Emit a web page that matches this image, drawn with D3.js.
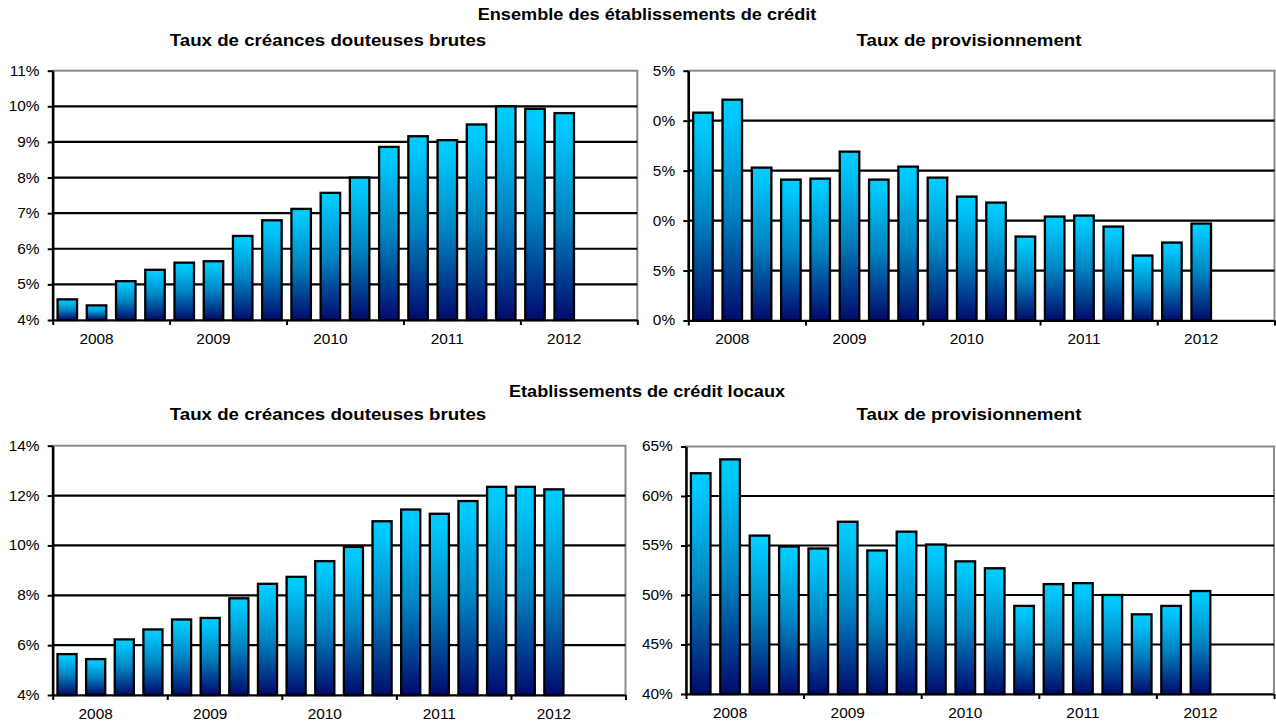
<!DOCTYPE html>
<html>
<head>
<meta charset="utf-8">
<script src="https://cdn.jsdelivr.net/npm/d3@7"></script>
<style>
  body { margin: 0; background: #fff; }
  svg { display: block; }
  text { font-family: "Liberation Sans", Arial, sans-serif; fill: #000; }
</style>
</head>
<body>
<svg id="chart" width="1276" height="722"></svg>
<script>
// Quarterly categories (20 slots, data runs to mid-2012)
const years = ["2008", "2009", "2010", "2011", "2012"];
const quarters = years.flatMap(y => ["T1", "T2", "T3", "T4"].map(q => y + "-" + q));

// Ensemble des établissements de crédit
const ensDouteuses = [4.58, 4.41, 5.09, 5.41, 5.61, 5.65, 6.36, 6.80, 7.12, 7.57, 8.00, 8.86, 9.16, 9.05, 9.49, 10.00, 9.93, 9.81];
const ensProvision = [60.8, 62.1, 55.3, 54.1, 54.2, 56.9, 54.1, 55.4, 54.3, 52.4, 51.8, 48.4, 50.4, 50.5, 49.4, 46.5, 47.8, 49.7];

// Etablissements de crédit locaux
const locDouteuses = [5.64, 5.44, 6.23, 6.63, 7.03, 7.09, 7.88, 8.46, 8.74, 9.37, 9.94, 10.97, 11.44, 11.27, 11.78, 12.35, 12.35, 12.25];
const locProvision = [62.3, 63.7, 56.0, 54.9, 54.7, 57.4, 54.5, 56.4, 55.1, 53.4, 52.7, 48.9, 51.1, 51.2, 50.0, 48.05, 48.9, 50.4];

// Y tick values and their printed labels
const ticksDouteusesEns = [4, 5, 6, 7, 8, 9, 10, 11];
const labelsDouteusesEns = ["4%", "5%", "6%", "7%", "8%", "9%", "10%", "11%"];
const ticksProvisionEns = [40, 45, 50, 55, 60, 65];
const labelsProvisionEns = ["0%", "5%", "0%", "5%", "0%", "5%"];
const ticksDouteusesLoc = [4, 6, 8, 10, 12, 14];
const labelsDouteusesLoc = ["4%", "6%", "8%", "10%", "12%", "14%"];
const ticksProvisionLoc = [40, 45, 50, 55, 60, 65];
const labelsProvisionLoc = ["40%", "45%", "50%", "55%", "60%", "65%"];

const groupTitles = ["Ensemble des établissements de crédit", "Etablissements de crédit locaux"];
const panelTitles = ["Taux de créances douteuses brutes", "Taux de provisionnement"];

const svg = d3.select("#chart");
const SX = 1.1; // horizontal text stretch

// Per-bar vertical gradient: cyan at top, navy at the base
const defs = svg.append("defs");
const grad = defs.append("linearGradient")
  .attr("id", "barFill").attr("x1", 0).attr("y1", 0).attr("x2", 0).attr("y2", 1);
[[0, "#00ccff"], [0.08, "#00c8fc"], [0.5, "#0085c2"], [1, "#000b6c"]].forEach(([o, c]) =>
  grad.append("stop").attr("offset", o).attr("stop-color", c));

function textAt(x, y, str, size, weight, anchor) {
  svg.append("text")
    .attr("transform", `translate(${x},${y}) scale(${SX},1)`)
    .attr("text-anchor", anchor)
    .style("font-size", size + "px")
    .style("font-weight", weight)
    .text(str);
}

const panels = [
  { left: 52.7, right: 637.3, top: 70.7, bottom: 320, domain: [4, 11],
    ticks: ticksDouteusesEns, labels: labelsDouteusesEns, values: ensDouteuses },
  { left: 688.3, right: 1274.5, top: 70.7, bottom: 320.5, domain: [40, 65],
    ticks: ticksProvisionEns, labels: labelsProvisionEns, values: ensProvision },
  { left: 52.7, right: 625.5, top: 445.7, bottom: 695, domain: [4, 14],
    ticks: ticksDouteusesLoc, labels: labelsDouteusesLoc, values: locDouteuses },
  { left: 686, right: 1274, top: 446.5, bottom: 694, domain: [40, 65],
    ticks: ticksProvisionLoc, labels: labelsProvisionLoc, values: locProvision }
];

panels.forEach(p => {
  const x = d3.scaleBand().domain(quarters).range([p.left, p.right])
    .paddingInner(1 / 3).paddingOuter(1 / 6);
  const xIdx = d3.scaleLinear().domain([0, quarters.length]).range([p.left, p.right]);
  const y = d3.scaleLinear().domain(p.domain).range([p.bottom, p.top]);
  const g = svg.append("g");

  // plot frame
  g.append("rect")
    .attr("x", p.left).attr("y", p.top)
    .attr("width", p.right - p.left).attr("height", p.bottom - p.top)
    .attr("fill", "none").attr("stroke", "#8a8a8a").attr("stroke-width", 2);

  // horizontal gridlines
  g.selectAll("line.grid")
    .data(p.ticks.slice(1, -1))
    .join("line")
    .attr("x1", p.left).attr("x2", p.right)
    .attr("y1", d => y(d)).attr("y2", d => y(d))
    .attr("stroke", "#000").attr("stroke-width", 2.2);

  // bars
  g.selectAll("rect.bar")
    .data(p.values)
    .join("rect")
    .attr("x", (d, i) => x(quarters[i]))
    .attr("y", d => y(d))
    .attr("width", x.bandwidth())
    .attr("height", d => p.bottom - y(d))
    .attr("fill", "url(#barFill)")
    .attr("stroke", "#000").attr("stroke-width", 2.3);

  // y axis
  const ya = g.append("g").attr("transform", `translate(${p.left},0)`)
    .call(d3.axisLeft(y).tickValues(p.ticks).tickFormat((d, i) => p.labels[i])
      .tickSize(5).tickSizeOuter(0).tickPadding(7));
  ya.select(".domain").attr("stroke", "#000").attr("stroke-width", 2.5);
  ya.selectAll(".tick line").attr("stroke", "#000").attr("stroke-width", 2);
  ya.selectAll(".tick text")
    .attr("transform", `scale(${SX},1)`)
    .style("font-size", "14px").attr("font-family", null);

  // x axis: year boundaries
  const xb = g.append("g").attr("transform", `translate(0,${p.bottom})`)
    .call(d3.axisBottom(xIdx).tickValues([0, 4, 8, 12, 16, 20]).tickFormat("")
      .tickSize(5).tickSizeOuter(0));
  xb.select(".domain").attr("stroke", "#000").attr("stroke-width", 2.2);
  xb.selectAll(".tick line").attr("stroke", "#000").attr("stroke-width", 2);

  // x axis: year labels under the second quarter of each year
  const xl = g.append("g").attr("transform", `translate(0,${p.bottom})`)
    .call(d3.axisBottom(x).tickValues(years.map(yr => yr + "-T2"))
      .tickFormat(d => d.slice(0, 4)).tickSize(0));
  xl.select(".domain").remove();
  xl.selectAll(".tick text")
    .attr("y", 24).attr("dy", 0)
    .attr("transform", `scale(${SX},1)`)
    .style("font-size", "14px");
});

// titles
textAt(647, 20, groupTitles[0], 16.5, "bold", "middle");
textAt(328, 46, panelTitles[0], 17, "bold", "middle");
textAt(969, 46, panelTitles[1], 17, "bold", "middle");
textAt(647, 397, groupTitles[1], 16.5, "bold", "middle");
textAt(328, 420, panelTitles[0], 17, "bold", "middle");
textAt(969, 420, panelTitles[1], 17, "bold", "middle");
</script>
</body>
</html>
